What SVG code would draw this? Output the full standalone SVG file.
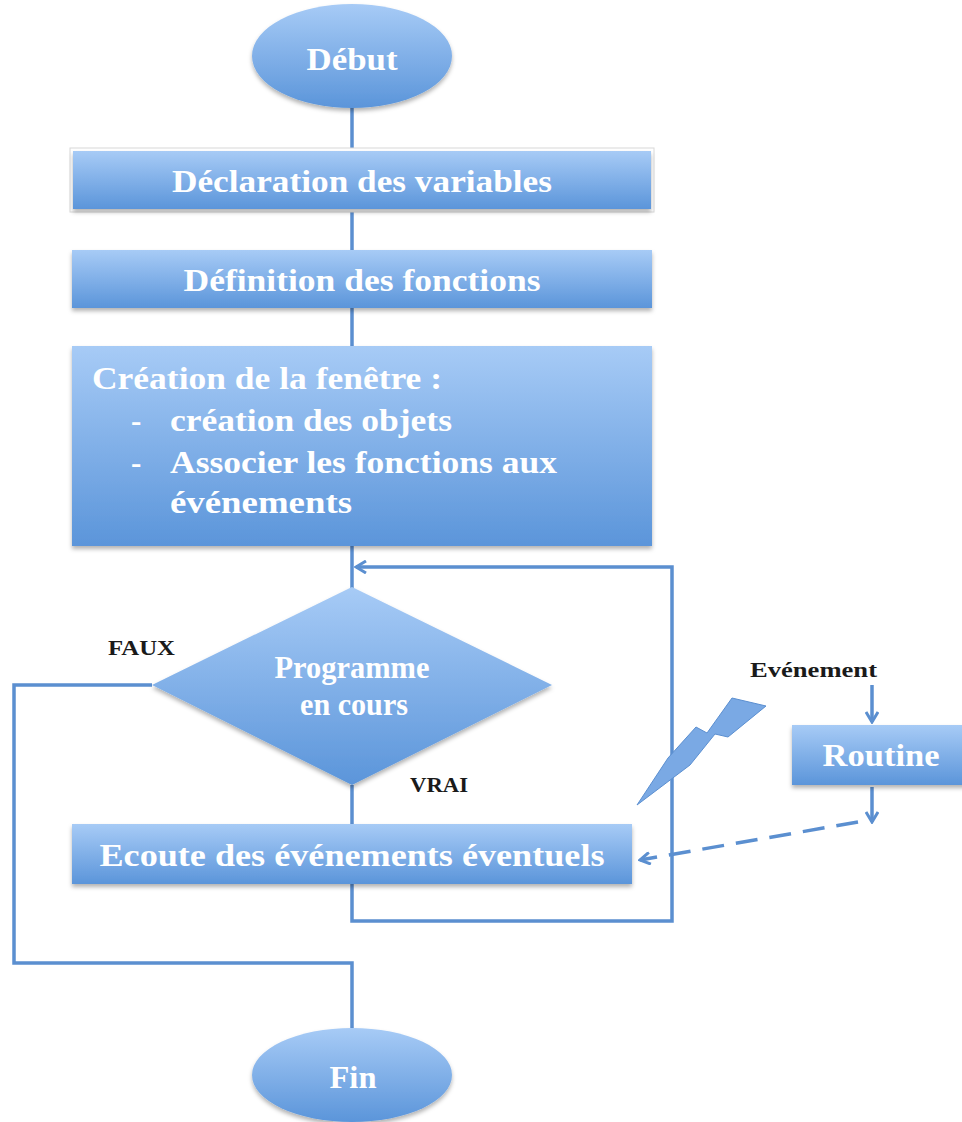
<svg xmlns="http://www.w3.org/2000/svg" width="962" height="1122" viewBox="0 0 962 1122">
<style>
.w{font-family:"Liberation Serif","DejaVu Serif",serif;fill:#ffffff;font-size:31px;font-weight:bold;text-anchor:middle}
.wl{font-family:"Liberation Serif","DejaVu Serif",serif;fill:#ffffff;font-size:31px;font-weight:bold}
.k{font-family:"Liberation Serif","DejaVu Serif",serif;fill:#1a1a1a;font-size:20px;font-weight:bold}
.ln{fill:none;stroke:#5b8fd0;stroke-width:3.5}
.shape{fill:url(#g);filter:url(#sh)}
</style>
<defs>
<linearGradient id="g" x1="0" y1="0" x2="0" y2="1">
<stop offset="0" stop-color="#a7cbf6"/>
<stop offset="1" stop-color="#5b95da"/>
</linearGradient>
<filter id="sh" x="-10%" y="-10%" width="120%" height="130%">
<feDropShadow dx="0" dy="3" stdDeviation="2" flood-color="#000" flood-opacity="0.3"/>
</filter>
<marker id="a" markerWidth="14" markerHeight="14" refX="12" refY="7" orient="auto" markerUnits="userSpaceOnUse">
<polyline points="2,1 12,7 2,13" fill="none" stroke="#5b8fd0" stroke-width="3"/>
</marker>
</defs>
<g id="connectors">
<line class="ln" x1="352" y1="105" x2="352" y2="150"/>
<line class="ln" x1="352" y1="210" x2="352" y2="250"/>
<line class="ln" x1="352" y1="308" x2="352" y2="346"/>
<line class="ln" x1="352" y1="546" x2="352" y2="588"/>
<line class="ln" x1="352" y1="785" x2="352" y2="824"/>
<polyline class="ln" points="352,884 352,921 672,921 672,567 356,567" marker-end="url(#a)"/>
<polyline class="ln" points="152,685 14,685 14,963 352,963 352,1028"/>
<line class="ln" x1="872" y1="685" x2="872" y2="722" marker-end="url(#a)"/>
<line class="ln" x1="872" y1="787" x2="872" y2="822" marker-end="url(#a)"/>
<line class="ln" x1="858" y1="822" x2="640" y2="860" stroke-dasharray="22,12" marker-end="url(#a)"/>
</g>
<g id="debut">
<ellipse class="shape" cx="352" cy="56" rx="100" ry="52"/>
<text class="w" x="352" y="70" textLength="91" lengthAdjust="spacingAndGlyphs">Début</text>
</g>
<g id="declaration">
<rect x="70" y="148" width="584" height="64" fill="#ffffff" stroke="#d8d8d8" stroke-width="1"/>
<rect class="shape" x="73" y="151" width="578" height="58"/>
<text class="w" x="362" y="192" textLength="380" lengthAdjust="spacingAndGlyphs">Déclaration des variables</text>
</g>
<g id="definition">
<rect class="shape" x="72" y="250" width="580" height="58"/>
<text class="w" x="362" y="291" textLength="357" lengthAdjust="spacingAndGlyphs">Définition des fonctions</text>
</g>
<g id="creation">
<rect class="shape" x="72" y="346" width="580" height="200"/>
<text class="wl" x="92" y="389" textLength="350" lengthAdjust="spacingAndGlyphs">Création de la fenêtre :</text>
<text class="wl" x="131" y="431">-</text>
<text class="wl" x="170" y="431" textLength="282" lengthAdjust="spacingAndGlyphs">création des objets</text>
<text class="wl" x="131" y="473">-</text>
<text class="wl" x="170" y="473" textLength="387" lengthAdjust="spacingAndGlyphs">Associer les fonctions aux</text>
<text class="wl" x="170" y="513" textLength="182" lengthAdjust="spacingAndGlyphs">événements</text>
</g>
<g id="decision">
<polygon class="shape" points="352,587 552,685 352,785 152,685"/>
<text class="w" x="352" y="678" font-size="27" textLength="155" lengthAdjust="spacingAndGlyphs">Programme</text>
<text class="w" x="354" y="715" font-size="27" textLength="108" lengthAdjust="spacingAndGlyphs">en cours</text>
</g>
<g id="labels">
<text class="k" x="108" y="655" textLength="67" lengthAdjust="spacingAndGlyphs">FAUX</text>
<text class="k" x="410" y="792" textLength="58" lengthAdjust="spacingAndGlyphs">VRAI</text>
<text class="k" x="750" y="677" textLength="127" lengthAdjust="spacingAndGlyphs">Evénement</text>
</g>
<g id="eclair">
<polygon points="637,805 668,758 696,727 707,733 732,698 766,706 728,737 715,734 690,765" fill="#7aa9e4" stroke="#5b8fd0" stroke-width="1"/>
</g>
<g id="ecoute">
<rect class="shape" x="72" y="824" width="560" height="60"/>
<text class="w" x="352" y="866" textLength="505" lengthAdjust="spacingAndGlyphs">Ecoute des événements éventuels</text>
</g>
<g id="routine">
<rect class="shape" x="792" y="725" width="175" height="60"/>
<text class="w" x="881" y="766" textLength="117" lengthAdjust="spacingAndGlyphs">Routine</text>
</g>
<g id="fin">
<ellipse class="shape" cx="352" cy="1075" rx="100" ry="47"/>
<text class="w" x="353" y="1088" textLength="47" lengthAdjust="spacingAndGlyphs">Fin</text>
</g>
</svg>
